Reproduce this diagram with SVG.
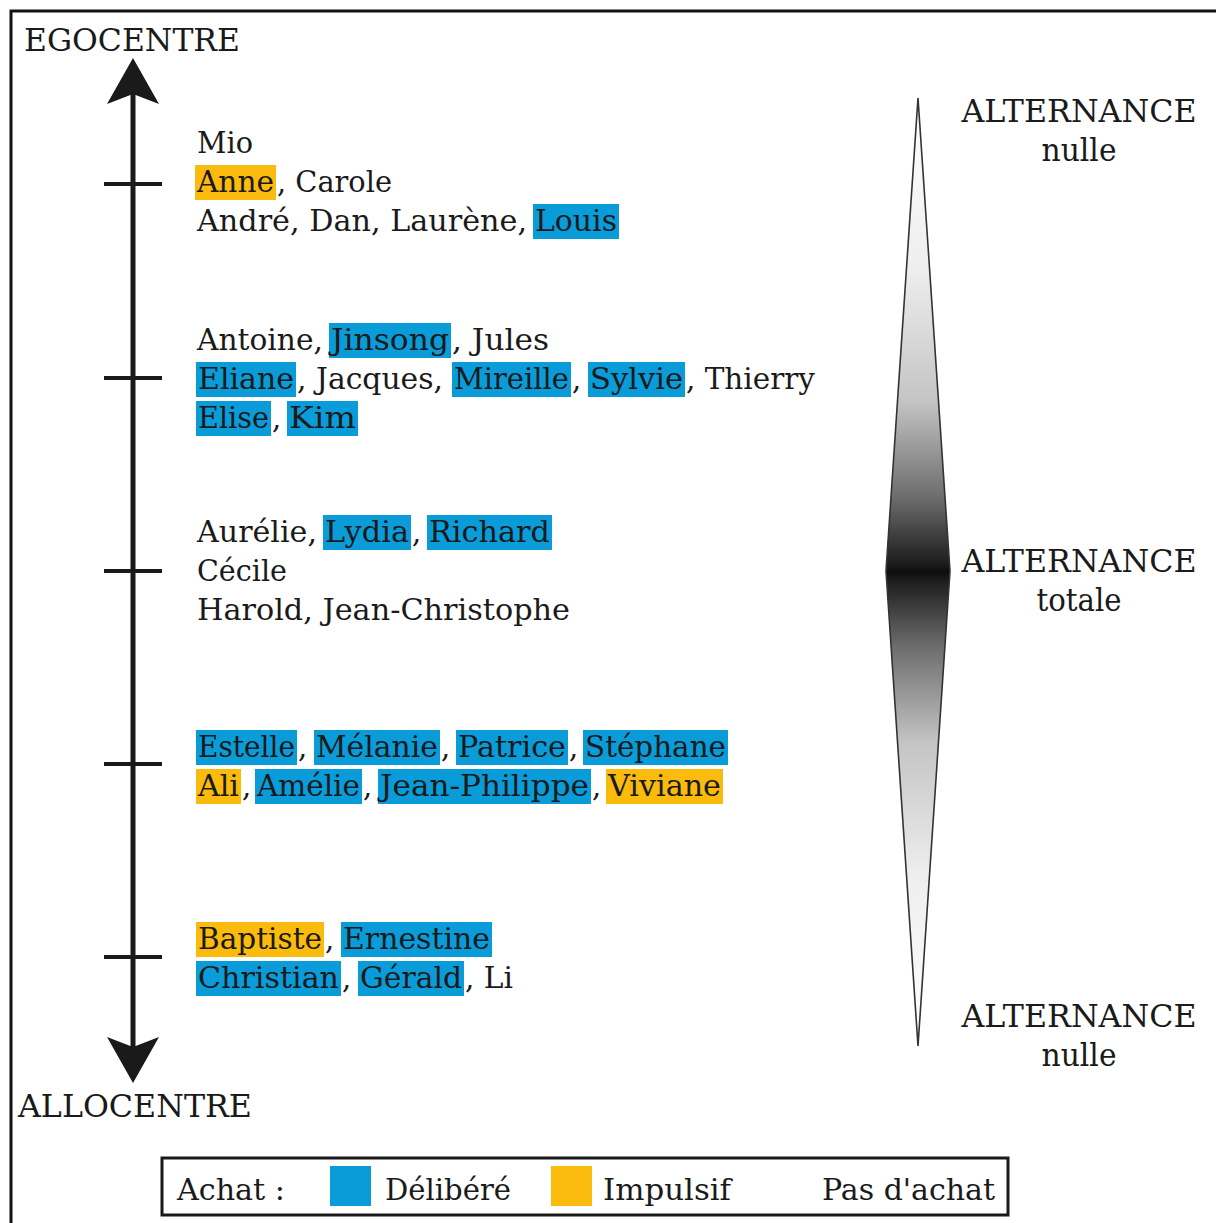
<svg xmlns="http://www.w3.org/2000/svg" width="1216" height="1223" viewBox="0 0 1216 1223">
  <defs>
    <linearGradient id="spindle" gradientUnits="userSpaceOnUse" x1="0" y1="98" x2="0" y2="1046">
      <stop offset="0" stop-color="#ffffff"/>
      <stop offset="0.18" stop-color="#eeeeee"/>
      <stop offset="0.32" stop-color="#c4c4c4"/>
      <stop offset="0.42" stop-color="#6e6e6e"/>
      <stop offset="0.49" stop-color="#1e1e1e"/>
      <stop offset="0.5" stop-color="#0e0e0e"/>
      <stop offset="0.51" stop-color="#1e1e1e"/>
      <stop offset="0.58" stop-color="#6e6e6e"/>
      <stop offset="0.68" stop-color="#c4c4c4"/>
      <stop offset="0.82" stop-color="#eeeeee"/>
      <stop offset="1" stop-color="#ffffff"/>
    </linearGradient>
  </defs>
  <style>
    text { font-family: "DejaVu Serif", "Liberation Serif", serif; fill: #1a1a1a; }
    .name { font-size: 29px; }
    .title { font-size: 31px; }
    .legend { font-size: 29px; }
    .blue { fill: #0a9bd9; }
    .yellow { fill: #fbbb0c; }
    .axis { stroke: #1a1a1a; stroke-width: 5; fill: none; }
    .tick { stroke: #1a1a1a; stroke-width: 4; }
  </style>

  <rect width="1216" height="1223" fill="#ffffff"/>
  <!-- frame (open on right and bottom) -->
  <path d="M11,1223 V11 H1216" fill="none" stroke="#111" stroke-width="3"/>

  <!-- vertical axis with arrows and ticks -->
  <g id="axis">
    <line class="axis" x1="133" y1="90" x2="133" y2="1050"/>
    <path d="M133,58 L159,104 L133,94 L107,104 Z" fill="#1a1a1a"/>
    <path d="M133,1083 L159,1037 L133,1047 L107,1037 Z" fill="#1a1a1a"/>
    <line class="tick" x1="104" y1="184" x2="162" y2="184"/>
    <line class="tick" x1="104" y1="378" x2="162" y2="378"/>
    <line class="tick" x1="104" y1="571" x2="162" y2="571" stroke-width="9"/>
    <line class="tick" x1="104" y1="764" x2="162" y2="764"/>
    <line class="tick" x1="104" y1="957" x2="162" y2="957"/>
    <text class="title" x="24" y="51" textLength="216" lengthAdjust="spacingAndGlyphs">EGOCENTRE</text>
    <text class="title" x="18" y="1117" textLength="234" lengthAdjust="spacingAndGlyphs">ALLOCENTRE</text>
  </g>

  <!-- group 1 -->
  <g id="group1" class="name">
    <text x="197" y="153" textLength="56" lengthAdjust="spacingAndGlyphs">Mio</text>
    <rect class="yellow" x="195" y="165" width="81" height="35"/>
    <text x="197" y="192" textLength="77" lengthAdjust="spacingAndGlyphs">Anne</text>
    <text x="277" y="192" textLength="115" lengthAdjust="spacingAndGlyphs">, Carole</text>
    <text x="197" y="231" textLength="330" lengthAdjust="spacingAndGlyphs">André, Dan, Laurène,</text>
    <rect class="blue" x="533" y="204" width="86" height="35"/>
    <text x="535" y="231" textLength="82" lengthAdjust="spacingAndGlyphs">Louis</text>
  </g>

  <!-- group 2 -->
  <g id="group2" class="name">
    <text x="197" y="350" textLength="126" lengthAdjust="spacingAndGlyphs">Antoine,</text>
    <rect class="blue" x="329" y="323" width="122" height="35"/>
    <text x="331" y="350" textLength="118" lengthAdjust="spacingAndGlyphs">Jinsong</text>
    <text x="452" y="350" textLength="97" lengthAdjust="spacingAndGlyphs">, Jules</text>
    <rect class="blue" x="196" y="362" width="100" height="35"/>
    <text x="198" y="389" textLength="96" lengthAdjust="spacingAndGlyphs">Eliane</text>
    <text x="297" y="389" textLength="146" lengthAdjust="spacingAndGlyphs">, Jacques,</text>
    <rect class="blue" x="452" y="362" width="119" height="35"/>
    <text x="454" y="389" textLength="115" lengthAdjust="spacingAndGlyphs">Mireille</text>
    <text x="572" y="389">,</text>
    <rect class="blue" x="588" y="362" width="97" height="35"/>
    <text x="590" y="389" textLength="93" lengthAdjust="spacingAndGlyphs">Sylvie</text>
    <text x="686" y="389" textLength="129" lengthAdjust="spacingAndGlyphs">, Thierry</text>
    <rect class="blue" x="196" y="401" width="75" height="35"/>
    <text x="198" y="428" textLength="71" lengthAdjust="spacingAndGlyphs">Elise</text>
    <text x="272" y="428">,</text>
    <rect class="blue" x="287" y="401" width="71" height="35"/>
    <text x="289" y="428" textLength="67" lengthAdjust="spacingAndGlyphs">Kim</text>
  </g>

  <!-- group 3 -->
  <g id="group3" class="name">
    <text x="197" y="542" textLength="120" lengthAdjust="spacingAndGlyphs">Aurélie,</text>
    <rect class="blue" x="323" y="515" width="88" height="35"/>
    <text x="325" y="542" textLength="84" lengthAdjust="spacingAndGlyphs">Lydia</text>
    <text x="412" y="542">,</text>
    <rect class="blue" x="427" y="515" width="125" height="35"/>
    <text x="429" y="542" textLength="121" lengthAdjust="spacingAndGlyphs">Richard</text>
    <text x="197" y="581" textLength="90" lengthAdjust="spacingAndGlyphs">Cécile</text>
    <text x="197" y="620" textLength="373" lengthAdjust="spacingAndGlyphs">Harold, Jean-Christophe</text>
  </g>

  <!-- group 4 -->
  <g id="group4" class="name">
    <rect class="blue" x="196" y="730" width="101" height="35"/>
    <text x="198" y="757" textLength="97" lengthAdjust="spacingAndGlyphs">Estelle</text>
    <text x="298" y="757">,</text>
    <rect class="blue" x="314" y="730" width="126" height="35"/>
    <text x="316" y="757" textLength="122" lengthAdjust="spacingAndGlyphs">Mélanie</text>
    <text x="441" y="757">,</text>
    <rect class="blue" x="456" y="730" width="112" height="35"/>
    <text x="458" y="757" textLength="108" lengthAdjust="spacingAndGlyphs">Patrice</text>
    <text x="569" y="757">,</text>
    <rect class="blue" x="583" y="730" width="145" height="35"/>
    <text x="585" y="757" textLength="141" lengthAdjust="spacingAndGlyphs">Stéphane</text>
    <rect class="yellow" x="196" y="769" width="45" height="35"/>
    <text x="198" y="796" textLength="41" lengthAdjust="spacingAndGlyphs">Ali</text>
    <text x="242" y="796">,</text>
    <rect class="blue" x="255" y="769" width="107" height="35"/>
    <text x="257" y="796" textLength="103" lengthAdjust="spacingAndGlyphs">Amélie</text>
    <text x="363" y="796">,</text>
    <rect class="blue" x="378" y="769" width="213" height="35"/>
    <text x="380" y="796" textLength="209" lengthAdjust="spacingAndGlyphs">Jean-Philippe</text>
    <text x="592" y="796">,</text>
    <rect class="yellow" x="606" y="769" width="117" height="35"/>
    <text x="608" y="796" textLength="113" lengthAdjust="spacingAndGlyphs">Viviane</text>
  </g>

  <!-- group 5 -->
  <g id="group5" class="name">
    <rect class="yellow" x="196" y="922" width="128" height="35"/>
    <text x="198" y="949" textLength="124" lengthAdjust="spacingAndGlyphs">Baptiste</text>
    <text x="325" y="949">,</text>
    <rect class="blue" x="341" y="922" width="151" height="35"/>
    <text x="343" y="949" textLength="147" lengthAdjust="spacingAndGlyphs">Ernestine</text>
    <rect class="blue" x="196" y="961" width="145" height="35"/>
    <text x="198" y="988" textLength="141" lengthAdjust="spacingAndGlyphs">Christian</text>
    <text x="342" y="988">,</text>
    <rect class="blue" x="358" y="961" width="106" height="35"/>
    <text x="360" y="988" textLength="102" lengthAdjust="spacingAndGlyphs">Gérald</text>
    <text x="465" y="988" textLength="48" lengthAdjust="spacingAndGlyphs">, Li</text>
  </g>

  <!-- alternation spindle -->
  <g id="spindle-scale">
    <path d="M918,98 L950,571 L918,1046 L886,571 Z" fill="url(#spindle)" stroke="#333" stroke-width="1.6" stroke-linejoin="miter"/>
    <g class="title" text-anchor="middle">
      <text x="1079" y="122" textLength="235" lengthAdjust="spacingAndGlyphs">ALTERNANCE</text>
      <text x="1079" y="161" textLength="75" lengthAdjust="spacingAndGlyphs">nulle</text>
      <text x="1079" y="572" textLength="235" lengthAdjust="spacingAndGlyphs">ALTERNANCE</text>
      <text x="1079" y="611" textLength="85" lengthAdjust="spacingAndGlyphs">totale</text>
      <text x="1079" y="1027" textLength="235" lengthAdjust="spacingAndGlyphs">ALTERNANCE</text>
      <text x="1079" y="1066" textLength="75" lengthAdjust="spacingAndGlyphs">nulle</text>
    </g>
  </g>

  <!-- legend -->
  <g id="legend" class="legend">
    <rect x="162" y="1158" width="846" height="57" fill="none" stroke="#1a1a1a" stroke-width="3"/>
    <text x="177" y="1200" textLength="108" lengthAdjust="spacingAndGlyphs">Achat :</text>
    <rect class="blue" x="330" y="1166" width="41" height="40"/>
    <text x="385" y="1200" textLength="126" lengthAdjust="spacingAndGlyphs">Délibéré</text>
    <rect class="yellow" x="551" y="1166" width="41" height="40"/>
    <text x="603" y="1200" textLength="128" lengthAdjust="spacingAndGlyphs">Impulsif</text>
    <text x="822" y="1200" textLength="173" lengthAdjust="spacingAndGlyphs">Pas d'achat</text>
  </g>
</svg>
